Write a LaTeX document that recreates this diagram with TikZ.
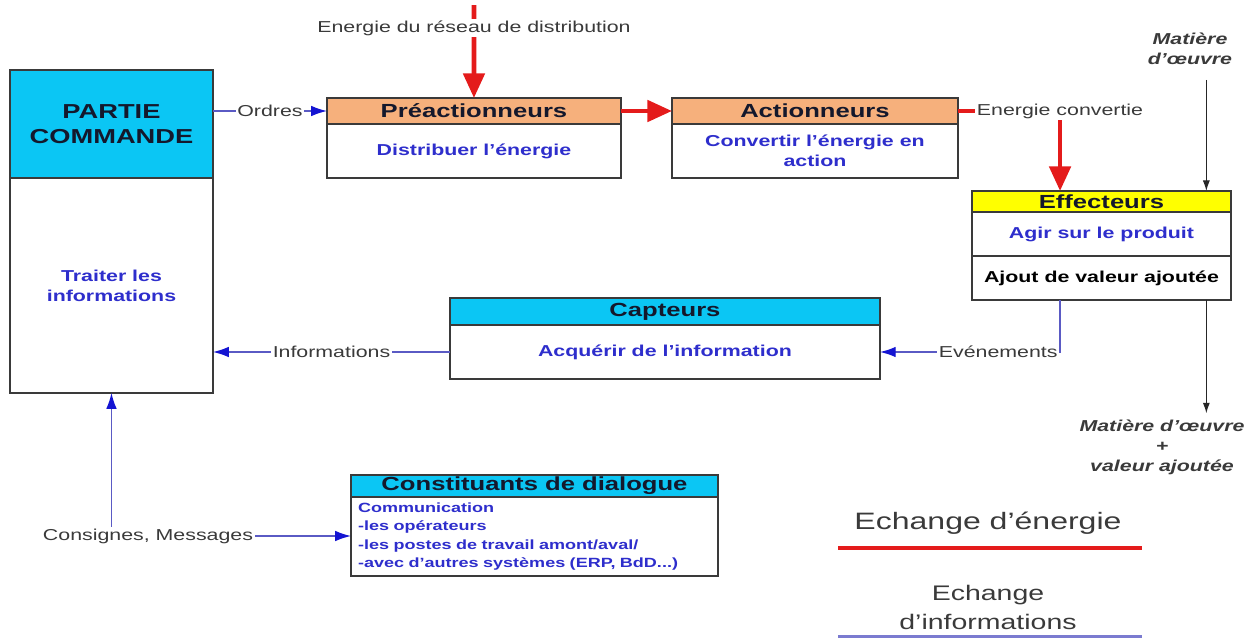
\documentclass[tikz,border=0pt]{standalone}
\usepackage{fontspec}
\setmainfont[FakeStretch=1.35]{Liberation Sans}
\usepackage{tikz}
\usetikzlibrary{arrows.meta,positioning,calc}
\definecolor{cCyan}{HTML}{0BC6F4}
\definecolor{cOrange}{HTML}{F6B07C}
\definecolor{cYellow}{HTML}{FFFF00}
\definecolor{cEdge}{HTML}{3A3A3A}
\definecolor{cHead}{HTML}{14182C}
\definecolor{cTxt}{HTML}{2E2ECC}
\definecolor{cLbl}{HTML}{3A3A3A}
\definecolor{cRed}{HTML}{E41B1B}
\definecolor{cBlueLn}{HTML}{5A5AC4}
\definecolor{cTip}{HTML}{1414D2}
\newcommand\fsHead{\fontsize{10.8}{14.2}\selectfont}
\newcommand\fsBody{\fontsize{9}{11.4}\selectfont}
\newcommand\fsLbl{\fontsize{9}{11}\selectfont}
\newcommand\fsDia{\fontsize{7.6}{10.6}\selectfont}
\tikzset{
  hbox/.style={draw=cEdge,fill=#1,line width=0.9pt,outer sep=0pt,inner sep=0pt,font=\fsHead\bfseries,text=cHead,align=center},
  bbox/.style={draw=cEdge,fill=white,line width=0.9pt,outer sep=0pt,inner sep=2pt,font=\fsBody\bfseries,text=cTxt,align=center},
  lbl/.style={font=\fsLbl,text=cLbl,fill=white,inner sep=1pt},
  mat/.style={font=\fsBody\bfseries\itshape,text=cLbl,align=center},
  legend/.style={text=cLbl,align=center},
  earr/.style={-{Triangle[length=14pt,width=12pt]},line width=2.6pt,color=cRed},
  iarr/.style={-{Latex[length=9pt,width=6pt,color=cTip]},line width=0.8pt,color=cBlueLn},
  marr/.style={-{Latex[length=6pt,width=4pt]},line width=0.6pt,color=black!85},
}
\begin{document}
\begin{tikzpicture}[x=0.02cm,y=-0.02cm]
  \useasboundingbox (0,0) rectangle (1259,637);
  % blocks
  \node[hbox=cCyan,minimum width=4.06cm,minimum height=2.16cm,anchor=north west,font=\fontsize{11.5}{14.2}\selectfont\bfseries] (pcH) at (10,70) {PARTIE\\COMMANDE};
  \node[bbox,minimum width=4.06cm,minimum height=4.3cm,below=0pt of pcH] (pcB) {Traiter les\\informations};
  \node[hbox=cOrange,minimum width=5.88cm,minimum height=0.52cm,anchor=north west] (preH) at (327,98) {Préactionneurs};
  \node[bbox,minimum width=5.88cm,minimum height=1.08cm,below=0pt of preH] (preB) {Distribuer l'énergie};
  \node[hbox=cOrange,minimum width=5.72cm,minimum height=0.52cm,anchor=north west] (actH) at (672,98) {Actionneurs};
  \node[bbox,minimum width=5.72cm,minimum height=1.08cm,below=0pt of actH] (actB) {Convertir l'énergie en\\action};
  \node[hbox=cYellow,minimum width=5.18cm,minimum height=0.42cm,anchor=north west] (effH) at (972,191) {Effecteurs};
  \node[bbox,minimum width=5.18cm,minimum height=0.88cm,below=0pt of effH] (eff1) {Agir sur le produit};
  \node[bbox,minimum width=5.18cm,minimum height=0.88cm,below=0pt of eff1,text=black] (eff2) {Ajout de valeur ajoutée};
  \node[hbox=cCyan,minimum width=8.6cm,minimum height=0.54cm,anchor=north west] (capH) at (450,298) {Capteurs};
  \node[bbox,minimum width=8.6cm,minimum height=1.08cm,below=0pt of capH] (capB) {Acquérir de l'information};
  \node[hbox=cCyan,minimum width=7.34cm,minimum height=0.44cm,anchor=north west] (diaH) at (351,475) {Constituants de dialogue};
  \node[bbox,minimum width=7.34cm,minimum height=1.58cm,below=0pt of diaH,font=\fsDia\bfseries,align=left,inner xsep=4pt,text width=7.34cm-8pt] (diaB) {Communication\\-les opérateurs\\-les postes de travail amont/aval/\\-avec d'autres systèmes (ERP, BdD...)};
  % energy
  \coordinate (reseau) at (474,5);
  \draw[earr] (reseau) -- node[lbl,pos=0.25]{Energie du réseau de distribution} (preH.north);
  \draw[earr] (preH.east) -- (actH.west);
  \coordinate (effE) at ($(effH.north west)!0.34!(effH.north east)$);
  \draw[earr] (actH.east) -| node[lbl,pos=0.5]{Energie convertie} (effE);
  % matter
  \node[mat] (matIn) at (1190,49) {Matière\\d'œuvre};
  \coordinate (effM) at ($(effH.north west)!0.905!(effH.north east)$);
  \draw[marr,shorten <=5pt] (matIn.south -| effM) -- (effM);
  \node[mat] (matOut) at (1162,447) {Matière d'œuvre\\+\\valeur ajoutée};
  \coordinate (effO) at ($(eff2.south west)!0.905!(eff2.south east)$);
  \draw[marr] (effO) -- (effO |- matOut.north);
  % information
  \draw[iarr] (pcH.east |- preH.west) -- node[lbl]{Ordres} (preH.west);
  \coordinate (effI) at ($(eff2.south west)!0.34!(eff2.south east)$);
  \draw[iarr] (effI) |- node[lbl,pos=0.5,anchor=east]{Evénements} (capB.east);
  \draw[iarr] (capB.west) -- node[lbl]{Informations} (capB.west -| pcB.east);
  \node[lbl] (cons) at (148,536) {Consignes, Messages};
  \draw[iarr] (cons.north -| pcB.south) -- (pcB.south);
  \draw[iarr] (cons.east) -- (cons.east -| diaB.west);
  % legend
  \node[legend,font=\fontsize{13.5}{16}\selectfont] (legE) at (988,523) {Echange d'énergie};
  \coordinate (legEa) at (838,548);
  \coordinate (legEb) at (1142,548);
  \draw[cRed,line width=2.3pt] (legEa) -- (legEb);
  \node[legend,font=\fontsize{12}{16.5}\selectfont] (legI) at (988,607) {Echange\\d'informations};
  \coordinate (legIa) at (838,637);
  \coordinate (legIb) at (1142,637);
  \draw[cBlueLn!80,line width=2pt] (legIa) -- (legIb);
\end{tikzpicture}
\end{document}
